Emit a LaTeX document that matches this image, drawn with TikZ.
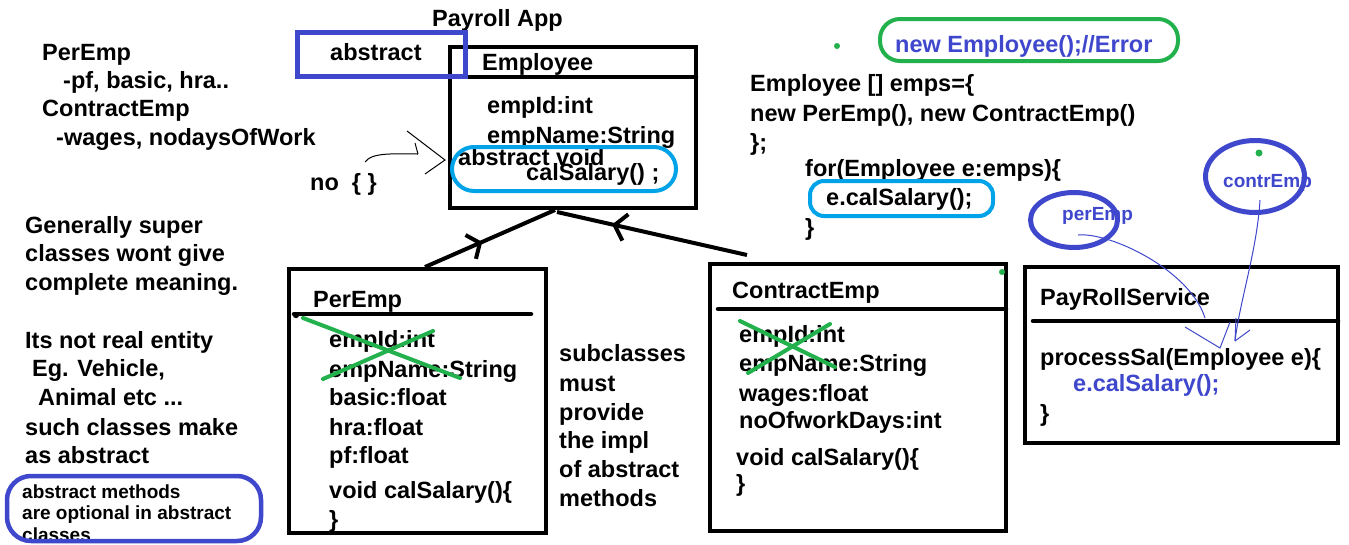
\documentclass[tikz,border=0pt]{standalone}
\usepackage{fontspec}
\setmainfont{Liberation Sans}
\usetikzlibrary{arrows.meta,decorations.markings,shapes.geometric}
\definecolor{pblue}{HTML}{3F48CC}
\definecolor{pcyan}{HTML}{00A2E8}
\definecolor{pgreen}{HTML}{22B14C}
\newcommand\mainf{\fontsize{23.5}{28}\selectfont\bfseries}
\newcommand\smallf{\fontsize{19}{23}\selectfont\bfseries}
\begin{document}
\begin{tikzpicture}[x=1pt,y=-1pt,
  txt/.style={anchor=base west, inner sep=0pt, font=\mainf},
  stxt/.style={anchor=base west, inner sep=0pt, font=\smallf},
  classbox/.style={draw, line width=4.5pt, inner sep=0pt, fill=none},
  divider/.style={line width=4.5pt, line cap=round},
  mark1/.style={draw=#1, line width=4pt, inner sep=0pt},
  cross/.style={pgreen, line width=4pt, line cap=round},
  inherit/.style={line width=4pt, postaction={decorate}},
  sketch/.style={line width=1pt},
]
\fill[white] (0,0) rectangle (1349,544);
\useasboundingbox (0,0) rectangle (1349,544);

% class boxes
\node[classbox, minimum width=246pt, minimum height=161pt] (empbox) at (573,127.5) {};
\node[classbox, minimum width=257pt, minimum height=264pt] (perbox) at (417.5,401) {};
\node[classbox, minimum width=296pt, minimum height=267pt] (conbox) at (858,397.5) {};
\node[classbox, minimum width=313pt, minimum height=176pt] (paybox) at (1181.5,355) {};
\draw[divider] (450,77) -- (696,77);
\draw[divider] (294,314) -- (531,314);
\fill (296,315) circle (3.2);
\draw[divider] (718,309) -- (1006,309);
\draw[divider] (1033,321) -- (1338,321);

% inheritance connectors
\coordinate (a1s) at (425,267);
\coordinate (a1e) at (555,210);
\coordinate (a2s) at (747,255);
\coordinate (a2e) at (557,212);
\draw[inherit, decoration={markings, mark=at position 0.44 with {\arrow{Straight Barb[length=10pt,width=26pt]}}}] (a1s) -- (a1e);
\draw[inherit, decoration={markings, mark=at position 0.71 with {\arrow{Straight Barb[length=11pt,width=27pt]}}}] (a2s) -- (a2e);

% top-left notes
\node[txt] (n1) at (42,60) {PerEmp};
\node[txt] (n2) at (63,88) {-pf, basic, hra..};
\node[txt] (n3) at (42,116) {ContractEmp};
\node[txt] (n4) at (56,145) {-wages, nodaysOfWork};
\node[txt] (nob) at (310,190) {no\ \ \{ \}};

% title and Employee
\node[txt] (title) at (432,26) {Payroll App};
\node[txt] (abs) at (330,60) {abstract};
\node[txt] (empT) at (482,70) {Employee};
\node[txt] (e1) at (487,113) {empId:int};
\node[txt] (e2) at (487,143) {empName:String};
\node[txt] (e3) at (458,165) {abstract void};
\node[txt] (e4) at (526,180) {calSalary() ;};
\node[mark1=pblue, line width=5pt, minimum width=168pt, minimum height=44pt] (absbox) at (381.5,54.5) {};
\node[mark1=pcyan, rounded corners=22pt, minimum width=224pt, minimum height=44pt] (cy1) at (564,169) {};

% sketch arrow to abstract method
\coordinate (s1) at (365,162);
\coordinate (s2) at (418,154);
\draw[sketch] (s1) .. controls (372,152) and (395,154) .. (s2);
\draw[sketch] (415,143) -- (s2);
\draw[sketch] (407,131) -- (445,160) -- (425,174);

% left notes
\node[txt] (g1) at (25,233) {Generally super};
\node[txt] (g2) at (25,261) {classes wont give};
\node[txt] (g3) at (25,290) {complete meaning.};
\node[txt] (g4) at (25,348) {Its not real entity};
\node[txt] (g5) at (32,376) {Eg. Vehicle,};
\node[txt] (g6) at (38,405) {Animal etc ...};
\node[txt] (g7) at (25,435) {such classes make};
\node[txt] (g8) at (25,463) {as abstract};
\node[stxt] (h1) at (22,498) {abstract methods};
\node[stxt] (h2) at (22,519) {are optional in abstract};
\node[stxt] (h3) at (22,541) {classes};
\node[mark1=pblue, line width=4.5pt, rounded corners=24pt, minimum width=254pt, minimum height=65pt] (optbox) at (134,508.5) {};

% PerEmp
\node[txt] (pT) at (313,307) {PerEmp};
\node[txt] (p1) at (329,347) {empId:int};
\node[txt] (p2) at (329,377) {empName:String};
\node[txt] (p3) at (329,405) {basic:float};
\node[txt] (p4) at (329,435) {hra:float};
\node[txt] (p5) at (329,463) {pf:float};
\node[txt] (p6) at (329,498) {void calSalary()\{};
\node[txt] (p7) at (329,527) {\}};
\draw[cross] (303,318) -- (460,378);
\draw[cross] (323,379) -- (433,331);

% middle note
\node[txt] (m1) at (559,361) {subclasses};
\node[txt] (m2) at (559,391) {must};
\node[txt] (m3) at (559,420) {provide};
\node[txt] (m4) at (559,448) {the impl};
\node[txt] (m5) at (559,477) {of abstract};
\node[txt] (m6) at (559,506) {methods};

% ContractEmp
\node[txt] (cT) at (732,298) {ContractEmp};
\node[txt] (c1) at (739,342) {empId:int};
\node[txt] (c2) at (739,371) {empName:String};
\node[txt] (c3) at (739,401) {wages:float};
\node[txt] (c4) at (739,428) {noOfworkDays:int};
\node[txt] (c5) at (736,465) {void calSalary()\{};
\node[txt] (c6) at (736,491) {\}};
\draw[cross] (740,321) -- (835,367);
\draw[cross] (748,373) -- (830,324);
\fill[pgreen] (1002,272) circle (3);

% right code
\fill[pgreen] (837,46) circle (3);
\node[txt, text=pblue] (err) at (895,52) {new Employee();//Error};
\node[mark1=pgreen, rounded corners=20pt, minimum width=298pt, minimum height=42pt] (errbox) at (1029,40) {};
\node[txt] (r1) at (750,91) {Employee [] emps=\{};
\node[txt] (r2) at (750,121) {new PerEmp(), new ContractEmp()};
\node[txt] (r3) at (750,150) {\};};
\node[txt] (r4) at (805,176) {for(Employee e:emps)\{};
\node[txt] (r5) at (826,205) {e.calSalary();};
\node[txt] (r6) at (805,235) {\}};
\node[mark1=pcyan, rounded corners=14pt, minimum width=183pt, minimum height=35pt] (cy2) at (901.5,198.5) {};

% PayRollService
\node[txt] (yT) at (1040,305) {PayRollService};
\node[txt] (y1) at (1040,365) {processSal(Employee e)\{};
\node[txt, text=pblue] (y2) at (1073,391) {e.calSalary();};
\node[txt] (y3) at (1040,421) {\}};

% object annotations
\node[stxt, text=pblue] (lp) at (1062,220) {perEmp};
\node[stxt, text=pblue] (lc) at (1223,187) {contrEmp};
\node[draw=pblue, line width=5pt, ellipse, inner sep=0pt, minimum width=87pt, minimum height=55pt] (pe) at (1074,220) {};
\node[draw=pblue, line width=5pt, ellipse, inner sep=0pt, minimum width=99pt, minimum height=72pt] (ce) at (1255,176.5) {};
\fill[pgreen] (1259,153) circle (3.5);
\coordinate (b1) at (1078,235);
\coordinate (b2) at (1205,318);
\coordinate (b3) at (1260,200);
\coordinate (b4) at (1235,341);
\draw[pblue, sketch] (b1) .. controls (1110,232) and (1190,270) .. (b2);
\draw[pblue, sketch] (1185,327) -- (1220,348) -- (1230,322);
\draw[pblue, sketch] (b3) .. controls (1257,250) and (1240,300) .. (b4);
\draw[pblue, sketch] (1250,330) -- (b4);
\draw[pblue, sketch] (1236,318) -- (b4);
\end{tikzpicture}
\end{document}
